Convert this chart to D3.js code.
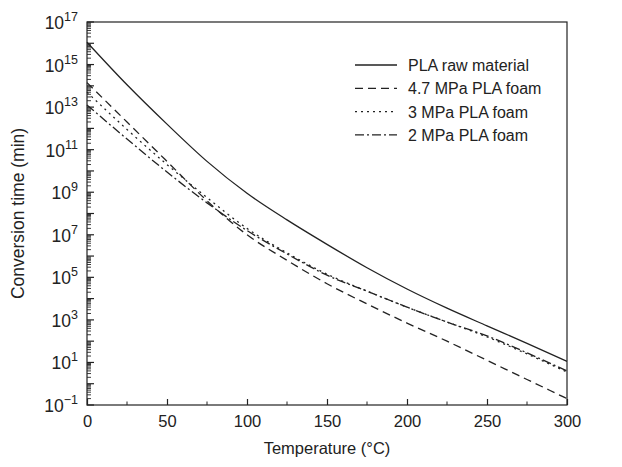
<!DOCTYPE html>
<html>
<head>
<meta charset="utf-8">
<script src="https://cdn.jsdelivr.net/npm/d3@7"></script>
<style>
    body { margin: 0; background: #fff; }
    svg text { font-family: "Liberation Sans", Arial, sans-serif; fill: #222; }
</style>
</head>
<body>
<div id="chart"></div>
<script>
// temperatures (°C) and log10 of conversion time (min)
const temps = [0, 25, 50, 75, 100, 125, 150, 175, 200, 225, 250, 275, 300];
const rawMaterial = [16.05, 14.05, 12.2, 10.45, 8.95, 7.7, 6.55, 5.45, 4.45, 3.55, 2.72, 1.9, 1.05];
const foam47 = [14.15, 12.3, 10.45, 8.6, 7.0, 5.8, 4.7, 3.75, 2.85, 2.0, 1.1, 0.2, -0.7];
const foam3 = [13.7, 11.95, 10.3, 8.75, 7.3, 6.15, 5.15, 4.35, 3.6, 2.9, 2.2, 1.4, 0.55];
const foam2 = [13.1, 11.5, 9.95, 8.5, 7.2, 6.1, 5.1, 4.35, 3.6, 2.9, 2.25, 1.45, 0.6];

const seriesNames = ["PLA raw material", "4.7 MPa PLA foam", "3 MPa PLA foam", "2 MPa PLA foam"];
const seriesValues = [rawMaterial, foam47, foam3, foam2];
const dashes = [null, "8,5", "2,4", "9,3,2,3"];

const xTicks = [0, 50, 100, 150, 200, 250, 300];
const xMinorTicks = [25, 75, 125, 175, 225, 275];
const yExponents = d3.range(-1, 18);          // major ticks every decade
const yLabelExponents = [-1, 1, 3, 5, 7, 9, 11, 13, 15, 17];

const width = 622, height = 467;
const margin = {top: 22, right: 55, bottom: 62, left: 87};

const svg = d3.select("#chart").append("svg")
    .attr("width", width)
    .attr("height", height);

const x = d3.scaleLinear().domain([0, 300]).range([margin.left, width - margin.right]);
const y = d3.scaleLog().domain([1e-1, 1e17]).range([height - margin.bottom, margin.top]);

const ink = "#222";

// frame
svg.append("rect")
    .attr("x", x(0)).attr("y", y(1e17))
    .attr("width", x(300) - x(0)).attr("height", y(1e-1) - y(1e17))
    .attr("fill", "none").attr("stroke", ink).attr("stroke-width", 1.2);

// x axis ticks (inside)
const xAxis = d3.axisBottom(x).tickValues(xTicks).tickSizeInner(-6).tickSizeOuter(0).tickPadding(10);
const gx = svg.append("g").attr("transform", `translate(0,${y(1e-1)})`).call(xAxis);
gx.select(".domain").remove();
gx.selectAll("line").attr("stroke", ink).attr("stroke-width", 1.2);
gx.selectAll("text").attr("font-size", 16.5).attr("fill", ink)
    .attr("font-family", "'Liberation Sans', Arial, sans-serif");

svg.append("g").selectAll("line")
    .data(xMinorTicks)
    .join("line")
    .attr("x1", d => x(d)).attr("x2", d => x(d))
    .attr("y1", y(1e-1)).attr("y2", y(1e-1) - 3.5)
    .attr("stroke", ink).attr("stroke-width", 1);

// y axis ticks (inside), minor ticks at 2..9 of each decade
const minorY = [];
yExponents.slice(0, -1).forEach(e => {
    for (let k = 2; k <= 9; k++) minorY.push(k * Math.pow(10, e));
});

svg.append("g").selectAll("line")
    .data(minorY)
    .join("line")
    .attr("x1", x(0)).attr("x2", x(0) + 4)
    .attr("y1", d => y(d)).attr("y2", d => y(d))
    .attr("stroke", ink).attr("stroke-width", 0.9);

svg.append("g").selectAll("line")
    .data(yExponents)
    .join("line")
    .attr("x1", x(0)).attr("x2", x(0) + 7)
    .attr("y1", d => y(Math.pow(10, d))).attr("y2", d => y(Math.pow(10, d)))
    .attr("stroke", ink).attr("stroke-width", 1.2);

const yLabels = svg.append("g").selectAll("text")
    .data(yLabelExponents)
    .join("text")
    .attr("x", x(0) - 9)
    .attr("y", d => y(Math.pow(10, d)) + 7)
    .attr("text-anchor", "end")
    .attr("font-size", 17.5);

yLabels.append("tspan").text("10");
yLabels.append("tspan")
    .attr("dy", -8)
    .attr("font-size", 12.5)
    .text(d => d < 0 ? "\u2212" + Math.abs(d) : d);

// axis titles
svg.append("text")
    .attr("x", (x(0) + x(300)) / 2)
    .attr("y", height - 13)
    .attr("text-anchor", "middle")
    .attr("font-size", 16.5)
    .text("Temperature (°C)");

svg.append("text")
    .attr("transform", `translate(24,${(y(1e17) + y(1e-1)) / 2}) rotate(-90)`)
    .attr("text-anchor", "middle")
    .attr("font-size", 17.5)
    .text("Conversion time (min)");

// curves
const line = d3.line()
    .x(d => x(d[0]))
    .y(d => y(Math.pow(10, d[1])))
    .curve(d3.curveMonotoneX);

seriesValues.forEach((vals, i) => {
    svg.append("path")
        .datum(temps.map((t, j) => [t, vals[j]]))
        .attr("d", line)
        .attr("fill", "none")
        .attr("stroke", ink)
        .attr("stroke-width", 1.3)
        .attr("stroke-dasharray", dashes[i]);
});

// legend
const legend = svg.append("g").attr("transform", "translate(355,65)");
seriesNames.forEach((name, i) => {
    const row = legend.append("g").attr("transform", `translate(0,${i * 23.3})`);
    row.append("line")
        .attr("x1", 0).attr("x2", 42)
        .attr("stroke", ink).attr("stroke-width", 1.3)
        .attr("stroke-dasharray", dashes[i]);
    row.append("text")
        .attr("x", 53).attr("y", 6)
        .attr("font-size", 16)
        .text(name);
});
</script>
</body>
</html>
